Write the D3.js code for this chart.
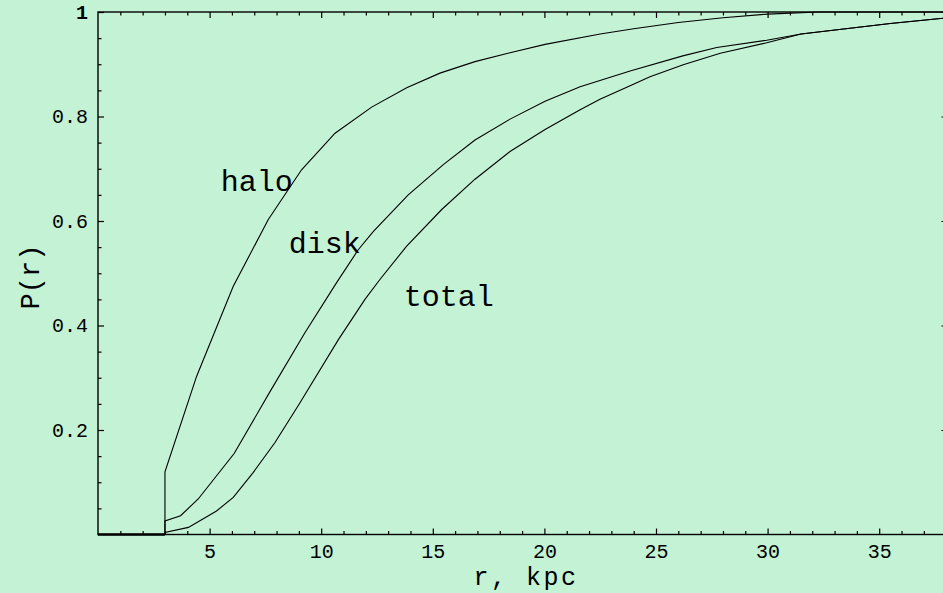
<!DOCTYPE html>
<html>
<head>
<meta charset="utf-8">
<script src="https://cdn.jsdelivr.net/npm/d3@7"></script>
<style>
  body { margin: 0; background: #c4f2d4; }
</style>
</head>
<body>
<div id="chart"></div>
<script>
// values
const rHalo = [0, 3, 3, 4.42, 6.06, 7.63, 9.12, 10.62, 12.26, 13.83, 15.32, 16.89, 18.46, 20.03, 22.5, 24, 26, 28, 30, 32.3, 38.1];
const pHalo = [0, 0, 0.12, 0.303, 0.475, 0.603, 0.698, 0.768, 0.818, 0.855, 0.883, 0.905, 0.922, 0.938, 0.958, 0.968, 0.98, 0.989, 0.996, 1, 1];

const rDisk = [0, 3, 3, 3.7, 4.49, 6.1, 7.7, 9.27, 10.69, 11.66, 12.34, 13.9, 15.47, 16.89, 18.46, 20.03, 21.6, 23.84, 26.2, 27.72, 29.96, 31.5, 33.5, 35.5, 38.1];
const pDisk = [0, 0, 0.026, 0.036, 0.068, 0.155, 0.273, 0.386, 0.482, 0.545, 0.58, 0.65, 0.708, 0.755, 0.795, 0.829, 0.857, 0.887, 0.916, 0.932, 0.946, 0.958, 0.968, 0.978, 0.989];

const rTotal = [0, 3, 3, 4.05, 5.31, 6.06, 6.96, 7.93, 9.05, 10.77, 11.96, 12.63, 13.83, 15.4, 16.89, 18.46, 20.03, 21.6, 22.49, 23.84, 24.73, 26.22, 27.88, 29.96, 31.5, 33.5, 35.5, 38.1];
const pTotal = [0, 0, 0.004, 0.0136, 0.045, 0.071, 0.119, 0.176, 0.252, 0.373, 0.45, 0.488, 0.552, 0.622, 0.68, 0.733, 0.775, 0.813, 0.833, 0.859, 0.876, 0.899, 0.921, 0.941, 0.958, 0.968, 0.978, 0.989];

const xTicks = [5, 10, 15, 20, 25, 30, 35];
const yTicks = [0.2, 0.4, 0.6, 0.8, 1];

const curveNames = ["halo", "disk", "total"];
const labelR = [5.5, 8.55, 13.7];
const labelP = [0.657, 0.539, 0.438];

const mono = "'Liberation Mono', 'DejaVu Sans Mono', monospace";

let svg = d3
  .select("#chart")
  .append("svg")
  .attr("width", 943)
  .attr("height", 593);

svg.append("rect")
  .attr("width", 943)
  .attr("height", 593)
  .attr("fill", "#c4f2d4");

const plotLeft = 98, plotRight = 947.5, plotTop = 12, plotBottom = 534.5;

let x = d3.scaleLinear().domain([0, 38.06]).range([plotLeft, plotRight]);
let y = d3.scaleLinear().domain([0, 1]).range([plotBottom, plotTop]);

// minor tick positions
let xMinor = d3.range(1, 39).filter(d => d % 5 !== 0);
let yMinor = d3.range(1, 20).map(d => d * 0.05).filter(d => Math.round(d * 20) % 4 !== 0);

function noDomain(g) {
  g.select(".domain").remove();
}

// bottom axis
svg.append("g")
  .attr("transform", "translate(0," + plotBottom + ")")
  .call(d3.axisBottom(x).tickValues(xMinor).tickSize(-3.5).tickFormat(""))
  .call(noDomain);
svg.append("g")
  .attr("transform", "translate(0," + plotBottom + ")")
  .call(d3.axisBottom(x).tickValues(xTicks).tickSize(-6).tickPadding(9).tickFormat(d3.format("d")))
  .call(noDomain)
  .attr("font-family", mono)
  .attr("font-size", 20);

// top axis
svg.append("g")
  .attr("transform", "translate(0," + plotTop + ")")
  .call(d3.axisTop(x).tickValues(xMinor).tickSize(-3.5).tickFormat(""))
  .call(noDomain);
svg.append("g")
  .attr("transform", "translate(0," + plotTop + ")")
  .call(d3.axisTop(x).tickValues(xTicks).tickSize(-6).tickFormat(""))
  .call(noDomain);

// left axis
svg.append("g")
  .attr("transform", "translate(" + plotLeft + ",0)")
  .call(d3.axisLeft(y).tickValues(yMinor).tickSize(-3.5).tickFormat(""))
  .call(noDomain);
let yAxis = svg.append("g")
  .attr("transform", "translate(" + plotLeft + ",0)")
  .call(d3.axisLeft(y).tickValues(yTicks).tickSize(-6).tickPadding(10)
    .tickFormat(d => d === 1 ? "1" : d3.format(".1f")(d)))
  .call(noDomain)
  .attr("font-family", mono)
  .attr("font-size", 20);
yAxis.selectAll("text").filter(d => d === 1).attr("font-weight", "bold");

// right axis
svg.append("g")
  .attr("transform", "translate(" + plotRight + ",0)")
  .call(d3.axisRight(y).tickValues(yMinor).tickSize(-3.5).tickFormat(""))
  .call(noDomain);
svg.append("g")
  .attr("transform", "translate(" + plotRight + ",0)")
  .call(d3.axisRight(y).tickValues(yTicks).tickSize(-6).tickFormat(""))
  .call(noDomain);

svg.selectAll(".tick line").attr("stroke", "#000").attr("stroke-width", 1.2);

// frame
svg.append("rect")
  .attr("x", plotLeft)
  .attr("y", plotTop)
  .attr("width", plotRight - plotLeft)
  .attr("height", plotBottom - plotTop)
  .attr("fill", "none")
  .attr("stroke", "#000")
  .attr("stroke-width", 1.4);

// curves
let line = d3.line()
  .x(d => x(d[0]))
  .y(d => y(d[1]));

[[rHalo, pHalo], [rDisk, pDisk], [rTotal, pTotal]].forEach(function (s) {
  svg.append("path")
    .datum(d3.zip(s[0], s[1]))
    .attr("d", line)
    .attr("fill", "none")
    .attr("stroke", "#000")
    .attr("stroke-width", 1.1);
});

// thicker zero segment like the original
svg.append("path")
  .datum([[0, 0], [3, 0]])
  .attr("d", line)
  .attr("stroke", "#000")
  .attr("stroke-width", 2.5);

// curve labels
svg.selectAll(".lbl")
  .data(curveNames)
  .enter()
  .append("text")
  .attr("class", "lbl")
  .attr("x", (d, i) => x(labelR[i]))
  .attr("y", (d, i) => y(labelP[i]))
  .attr("font-family", mono)
  .attr("font-size", 30)
  .text(d => d);

// axis titles
svg.append("text")
  .attr("transform", "translate(39,277) rotate(-90)")
  .attr("text-anchor", "middle")
  .attr("font-family", mono)
  .attr("font-size", 27)
  .text("P(r)");

svg.append("text")
  .attr("x", 526)
  .attr("y", 585)
  .attr("text-anchor", "middle")
  .attr("font-family", mono)
  .attr("font-size", 25)
  .attr("letter-spacing", 2.5)
  .text("r, kpc");
</script>
</body>
</html>
